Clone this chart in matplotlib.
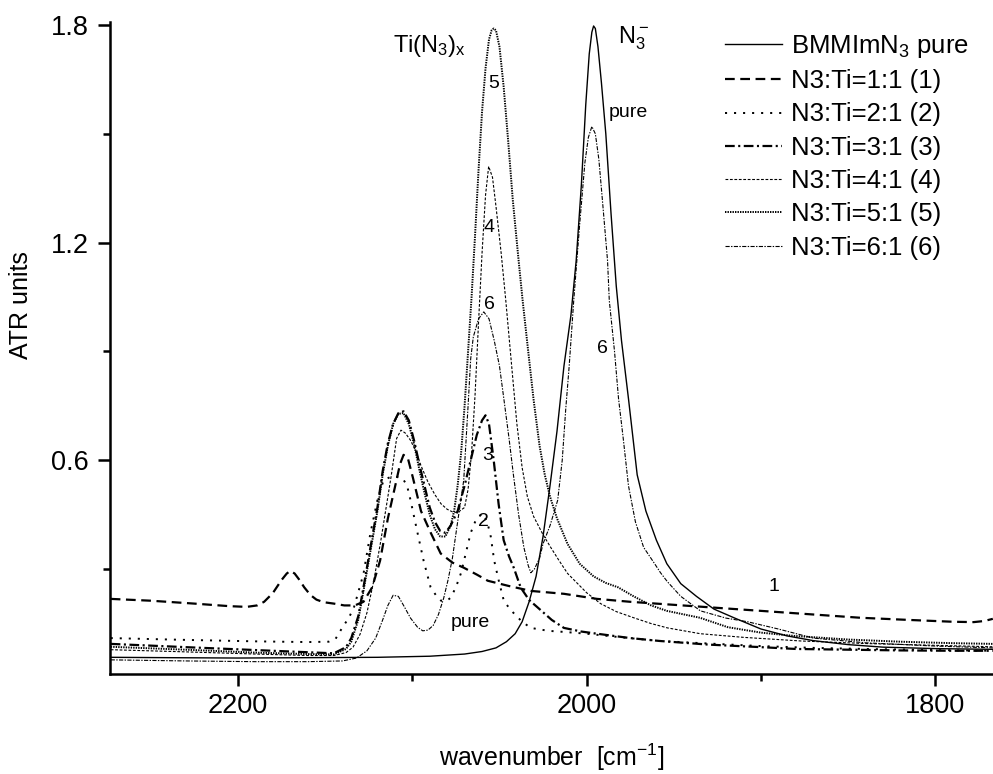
import matplotlib
matplotlib.use("Agg")
import matplotlib.pyplot as plt

plt.rcParams['font.family'] = ['Liberation Sans', 'DejaVu Sans']
plt.rcParams['mathtext.fontset'] = 'custom'
plt.rcParams['mathtext.rm'] = 'Liberation Sans'
plt.rcParams['mathtext.it'] = 'Liberation Sans'
plt.rcParams['mathtext.default'] = 'regular'
plt.rcParams['lines.scale_dashes'] = False

# ---- ATR spectra (wavenumber in cm^-1, absorbance in ATR units) ----
pure_wn = [2273, 2240, 2200, 2160, 2120, 2090, 2070, 2060, 2052, 2046, 2041, 2037, 2033,
           2029, 2025, 2021, 2017, 2013, 2009, 2006, 2003, 2000.5, 1998.5, 1997, 1996,
           1995, 1993.5, 1991.5, 1989, 1986, 1983, 1980, 1976, 1971, 1966, 1960, 1954,
           1946, 1937, 1927, 1915, 1900, 1885, 1870, 1850, 1830, 1800, 1767]
pure_atr = [0.057, 0.056, 0.055, 0.056, 0.057, 0.060, 0.066, 0.073, 0.083, 0.100, 0.122,
            0.155, 0.21, 0.28, 0.39, 0.53, 0.68, 0.86, 1.0, 1.15, 1.36, 1.58, 1.72, 1.78,
            1.797, 1.79, 1.74, 1.64, 1.50, 1.28, 1.08, 0.93, 0.77, 0.56, 0.46, 0.38, 0.315,
            0.26, 0.225, 0.19, 0.165, 0.135, 0.116, 0.103, 0.092, 0.085, 0.081, 0.079]

r1_wn = [2273, 2250, 2225, 2205, 2195, 2189, 2185, 2180, 2175, 2172, 2170, 2167.5, 2165,
         2162, 2158.5, 2155, 2151, 2145, 2139, 2133, 2128, 2123, 2118.5, 2114, 2109.5,
         2107, 2105, 2102.5, 2099.7, 2095, 2089.4, 2083.7, 2077, 2070.5, 2063, 2056.7,
         2045, 2032, 2013, 1994, 1975, 1957, 1930, 1900, 1870, 1843, 1815, 1790, 1778,
         1772, 1767]
r1_atr = [0.218, 0.213, 0.205, 0.198, 0.196, 0.2, 0.21, 0.234, 0.27, 0.288, 0.295, 0.288,
          0.272, 0.25, 0.229, 0.216, 0.209, 0.205, 0.2, 0.2, 0.21, 0.25, 0.323, 0.44, 0.536,
          0.59, 0.615, 0.605, 0.553, 0.46, 0.40, 0.343, 0.318, 0.304, 0.285, 0.268, 0.254,
          0.24, 0.232, 0.218, 0.21, 0.204, 0.195, 0.185, 0.175, 0.166, 0.16, 0.155, 0.154,
          0.157, 0.163]

r2_wn = [2273, 2230, 2190, 2160, 2148, 2144, 2140, 2136.5, 2133.5, 2128, 2124, 2120,
         2116.5, 2113, 2110.5, 2108, 2105.5, 2103, 2101, 2097, 2093.5, 2089.5, 2086,
         2083.5, 2080.5, 2078, 2075, 2072, 2069, 2066.5, 2064, 2062, 2059.7, 2057, 2055,
         2053, 2050, 2047.5, 2044, 2041.5, 2037, 2032, 2022, 2013, 2000, 1980, 1958,
         1930, 1900, 1870, 1840, 1800, 1767]
r2_atr = [0.110, 0.105, 0.101, 0.099, 0.100, 0.108, 0.14, 0.165, 0.194, 0.287, 0.4, 0.49,
          0.545, 0.553, 0.556, 0.553, 0.55, 0.53, 0.49, 0.40, 0.323, 0.25, 0.225, 0.213,
          0.212, 0.221, 0.25, 0.29, 0.35, 0.4, 0.43, 0.445, 0.453, 0.43, 0.39, 0.323, 0.26,
          0.213, 0.19, 0.177, 0.155, 0.138, 0.13, 0.127, 0.122, 0.112, 0.102, 0.095, 0.088,
          0.083, 0.08, 0.077, 0.075]

r3_wn = [2273, 2230, 2190, 2160, 2145, 2138, 2135, 2131, 2128, 2124, 2120, 2117, 2114,
         2111, 2108, 2105, 2102, 2099, 2096, 2093, 2090, 2087, 2084, 2081, 2078, 2074,
         2070, 2066.5, 2063, 2060, 2058, 2056, 2053.3, 2050.5, 2047.6, 2044.5, 2041.8,
         2037.8, 2033, 2028, 2020, 2013, 2003, 1994, 1975, 1958, 1930, 1900, 1880, 1850,
         1820, 1790, 1767]
r3_atr = [0.094, 0.085, 0.077, 0.071, 0.068, 0.085, 0.11, 0.17, 0.25, 0.36, 0.47, 0.57,
          0.647, 0.7, 0.73, 0.735, 0.71, 0.655, 0.59, 0.53, 0.47, 0.43, 0.405, 0.4, 0.42,
          0.46, 0.53, 0.6, 0.67, 0.71, 0.724, 0.7, 0.6, 0.48, 0.38, 0.335, 0.304, 0.249,
          0.215, 0.194, 0.16, 0.138, 0.128, 0.122, 0.11, 0.102, 0.092, 0.085, 0.08, 0.078,
          0.076, 0.075, 0.075]

r4_wn = [2273, 2230, 2190, 2160, 2145, 2138, 2134, 2130, 2126, 2122, 2118, 2115, 2112,
         2109, 2106.5, 2104, 2101, 2098, 2095, 2091, 2087, 2083.5, 2080, 2077, 2074, 2070,
         2068, 2066, 2064, 2062, 2060, 2058, 2056.2, 2054, 2052, 2049, 2046.4, 2043, 2040,
         2037, 2034, 2030.4, 2025, 2020.6, 2016, 2010.9, 2000, 1992, 1983, 1973, 1963,
         1953.6, 1934.7, 1910, 1877, 1840, 1800, 1767]
r4_atr = [0.078, 0.072, 0.066, 0.062, 0.062, 0.07, 0.085, 0.12, 0.18, 0.27, 0.38, 0.47,
          0.56, 0.66, 0.683, 0.675, 0.655, 0.625, 0.585, 0.54, 0.505, 0.48, 0.465, 0.458,
          0.456, 0.47, 0.52, 0.62, 0.78, 0.98, 1.17, 1.33, 1.41, 1.38, 1.3, 1.17, 1.042,
          0.86, 0.7, 0.58, 0.5, 0.445, 0.395, 0.36, 0.325, 0.288, 0.235, 0.205, 0.183,
          0.166, 0.15, 0.138, 0.122, 0.112, 0.102, 0.095, 0.09, 0.086]

r5_wn = [2273, 2230, 2190, 2160, 2145, 2138, 2135, 2131, 2128, 2124, 2120, 2117, 2114,
         2111, 2108, 2105, 2102, 2099, 2096, 2093, 2090, 2087, 2084, 2081, 2078, 2076,
         2074, 2072, 2070, 2068, 2066, 2064, 2062, 2060, 2058, 2056, 2054.5, 2053.3, 2052,
         2050, 2047.6, 2045, 2042.4, 2039, 2036.7, 2033.5, 2030.4, 2027, 2024, 2021, 2017,
         2011, 2004, 1996, 1989, 1982, 1973, 1963, 1954, 1935, 1919, 1900, 1881, 1850,
         1820, 1790, 1767]
r5_atr = [0.086, 0.078, 0.07, 0.066, 0.065, 0.08, 0.1, 0.16, 0.24, 0.35, 0.46, 0.56, 0.64,
          0.7, 0.728, 0.73, 0.7, 0.645, 0.575, 0.51, 0.45, 0.41, 0.39, 0.39, 0.42, 0.46,
          0.53, 0.62, 0.75, 0.9, 1.05, 1.22, 1.4, 1.56, 1.68, 1.76, 1.785, 1.79, 1.785,
          1.74, 1.63, 1.48, 1.32, 1.15, 1.04, 0.9, 0.766, 0.64, 0.56, 0.5, 0.44, 0.37, 0.315,
          0.28, 0.262, 0.25, 0.225, 0.2, 0.185, 0.166, 0.14, 0.125, 0.116, 0.106, 0.1,
          0.096, 0.094]

r6_wn = [2273, 2230, 2190, 2160, 2140, 2132, 2126, 2121, 2117, 2114, 2111, 2108, 2105,
         2101, 2097, 2094, 2091, 2088, 2085, 2082, 2079.5, 2077, 2074, 2070.5, 2068,
         2066.5, 2065, 2062, 2059, 2056, 2053, 2050, 2047.5, 2044.5, 2042, 2039, 2036,
         2033.5, 2032, 2030, 2027, 2025, 2021, 2016.6, 2014, 2012, 2010, 2007.4, 2004, 2001,
         1999, 1997, 1995, 1993, 1991, 1988, 1987, 1984, 1981.7, 1979, 1976, 1972, 1967.3,
         1961, 1957.6, 1953.6, 1946, 1934.7, 1920, 1907.7, 1890, 1870, 1840, 1800, 1767]
r6_atr = [0.05, 0.047, 0.045, 0.045, 0.047, 0.055, 0.075, 0.11, 0.16, 0.2, 0.228, 0.225,
          0.2, 0.165, 0.14, 0.13, 0.132, 0.145, 0.175, 0.22, 0.27, 0.33, 0.43, 0.545, 0.75,
          0.88, 0.94, 0.99, 1.009, 0.99, 0.93, 0.86, 0.77, 0.66, 0.56, 0.45, 0.36, 0.31,
          0.29, 0.3, 0.33, 0.37, 0.42, 0.49, 0.6, 0.74, 0.86, 1.04, 1.25, 1.42, 1.49, 1.52,
          1.5, 1.43, 1.32, 1.15, 1.04, 0.9, 0.77, 0.66, 0.53, 0.43, 0.36, 0.315, 0.29, 0.265,
          0.225, 0.185, 0.165, 0.155, 0.135, 0.11, 0.097, 0.088, 0.083]

legend_labels = [r'BMMImN$_3$ pure', 'N3:Ti=1:1 (1)', 'N3:Ti=2:1 (2)', 'N3:Ti=3:1 (3)',
                 'N3:Ti=4:1 (4)', 'N3:Ti=5:1 (5)', 'N3:Ti=6:1 (6)']

series = [
    (pure_wn, pure_atr, dict(lw=1.0, ls='-')),
    (r1_wn, r1_atr, dict(lw=1.6, dashes=(7, 4))),
    (r2_wn, r2_atr, dict(lw=1.4, dashes=(1.5, 5))),
    (r3_wn, r3_atr, dict(lw=1.6, dashes=(7, 2.5, 1.5, 2.5))),
    (r4_wn, r4_atr, dict(lw=0.8, dashes=(2, 1.2))),
    (r5_wn, r5_atr, dict(lw=1.4, dashes=(1, 0.8))),
    (r6_wn, r6_atr, dict(lw=0.8, dashes=(3, 1, 1, 1))),
]

fig = plt.figure(figsize=(9.93, 7.74), dpi=100)
ax = fig.add_axes([110 / 993, 100 / 774, 883 / 993, 652 / 774])

handles = []
for (wn, atr, style), lab in zip(series, legend_labels):
    h, = ax.plot(wn, atr, color='black', label=lab, **style)
    handles.append(h)

ax.set_xlim(2273.4, 1766.9)
ax.set_ylim(0.011, 1.808)

ax.set_xticks([2200, 2000, 1800])
ax.set_xticks([2100, 1900], minor=True)
ax.set_yticks([0.6, 1.2, 1.8])
ax.set_yticklabels(['0.6', '1.2', '1.8'])
ax.set_yticks([0.3, 0.9, 1.5], minor=True)

for side in ('top', 'right'):
    ax.spines[side].set_visible(False)
for side in ('left', 'bottom'):
    ax.spines[side].set_linewidth(1.8)

ax.tick_params(which='major', direction='out', length=8.6, width=1.8, labelsize=19.5)
ax.tick_params(which='minor', direction='out', length=5, width=1.8)
ax.tick_params(axis='x', which='major', pad=5)
ax.tick_params(axis='y', which='major', pad=6.5)

ax.set_xlabel(r'wavenumber  [cm$^{-1}$]', fontsize=18)
ax.xaxis.set_label_coords(0.5, -0.104)
ax.set_ylabel('ATR units', fontsize=18)
ax.yaxis.set_label_coords(-0.087, 0.566)

# peak annotations
ax.text(2111, 1.725, r'Ti(N$_3$)$_x$', fontsize=17, ha='left', va='baseline')
ax.text(1981.8, 1.749, r'N$_3^-$', fontsize=17, ha='left', va='baseline')
ax.text(2053.5, 1.639, '5', fontsize=14, ha='center', va='center')
ax.text(2055.8, 1.242, '4', fontsize=14, ha='center', va='center')
ax.text(2055.5, 1.03, '6', fontsize=14, ha='center', va='center')
ax.text(2057, 0.614, '3', fontsize=14, ha='center', va='center')
ax.text(2059.4, 0.43, '2', fontsize=14, ha='center', va='center')
ax.text(2066.7, 0.152, 'pure', fontsize=14, ha='center', va='center')
ax.text(1976, 1.559, 'pure', fontsize=14, ha='center', va='center')
ax.text(1991, 0.909, '6', fontsize=14, ha='center', va='center')
ax.text(1892.8, 0.251, '1', fontsize=14, ha='center', va='center')

fig.legend(handles=handles, loc='upper left', bbox_to_anchor=(725 / 993, 1 - 33 / 774),
           frameon=False, fontsize=18.5, handlelength=2.2, handletextpad=0.38,
           labelspacing=0.36, borderpad=0, borderaxespad=0)

fig.savefig('out.png', dpi=100)
